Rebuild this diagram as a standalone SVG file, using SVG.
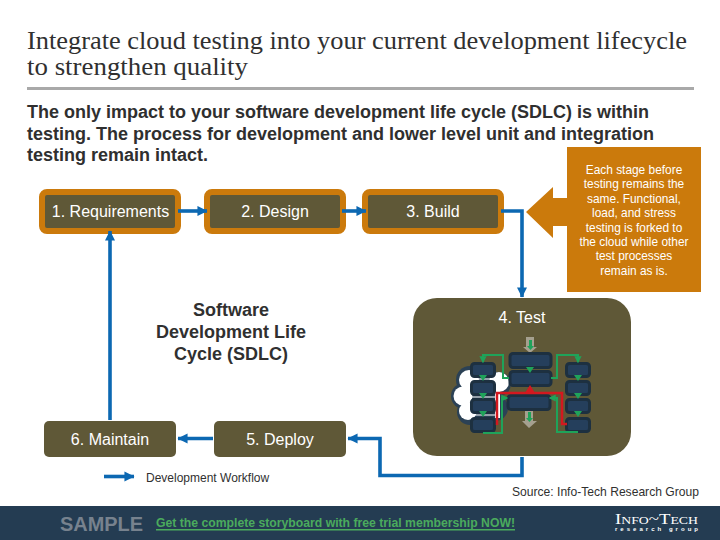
<svg xmlns="http://www.w3.org/2000/svg" width="720" height="540" viewBox="0 0 720 540">
<style>
text{font-family:"Liberation Sans",Arial,sans-serif}
.t{font-family:"Liberation Serif","Times New Roman",serif;font-size:25px;fill:#303030}
.o{fill:#5f5837;stroke:#cb7a0c;stroke-width:6}
.p{fill:#5f5837}
.l{font-size:16px;fill:#fff;text-anchor:middle}
.c{font-size:11.9px;fill:#fff;text-anchor:middle}
.b{font-size:18px;font-weight:bold;fill:#2f2f2f}
.s{font-size:18px;font-weight:bold;fill:#303030;text-anchor:middle}
.f{fill:none;stroke:#0c68b2;stroke-width:3.6}
.n{fill:#253f5c;stroke:#1d3040;stroke-width:3}
.g{fill:none;stroke:#1fa35a;stroke-width:2}
.gh{fill:#1fa35a}
.cd{fill:#2b4155}
.cw{fill:#fff}
</style>
<defs>
<marker id="a" viewBox="0 0 10 10" refX="9.500" refY="5" markerWidth="2.800" markerHeight="2.800" orient="auto"><path d="M0 0L10 5L0 10Z" fill="#0c68b2"/></marker>
<marker id="t" viewBox="0 0 10 10" refX="8" refY="5" markerWidth="3.600" markerHeight="3.600" orient="auto"><path d="M0 0L10 5L0 10Z" fill="#1fa35a"/></marker>
</defs>
<text class="t" x="27" y="49" textLength="660" lengthAdjust="spacingAndGlyphs">Integrate cloud testing into your current development lifecycle</text>
<text class="t" x="27" y="75" textLength="221" lengthAdjust="spacingAndGlyphs">to strengthen quality</text>
<rect x="27" y="87" width="667" height="3" fill="#a9a9a9"/>
<text class="b" x="27" y="118">The only impact to your software development life cycle (SDLC) is within</text>
<text class="b" x="27" y="140">testing. The process for development and lower level unit and integration</text>
<text class="b" x="27" y="161">testing remain intact.</text>
<g id="n1"><rect class="o" x="42" y="192" width="136" height="39" rx="5"/><text class="l" x="110.500" y="217">1. Requirements</text></g>
<g id="n2"><rect class="o" x="207" y="192" width="136" height="39" rx="5"/><text class="l" x="275" y="217">2. Design</text></g>
<g id="n3"><rect class="o" x="365" y="192" width="136" height="39" rx="5"/><text class="l" x="433" y="217">3. Build</text></g>
<g id="callout"><path fill="#cb7a0c" d="M567 147H701V292H567V226H553V238L526 212L553 187V198H567Z"/>
<text class="c" x="634" y="174">Each stage before</text><text class="c" x="634" y="188">testing remains the</text><text class="c" x="634" y="203">same. Functional,</text><text class="c" x="634" y="217">load, and stress</text><text class="c" x="634" y="232">testing is forked to</text><text class="c" x="634" y="246">the cloud while other</text><text class="c" x="634" y="260">test processes</text><text class="c" x="634" y="275">remain as is.</text></g>
<g id="center"><text class="s" x="231" y="316">Software</text><text class="s" x="231" y="338">Development Life</text><text class="s" x="231" y="360">Cycle (SDLC)</text></g>
<g id="n4"><rect class="p" x="413" y="298" width="218" height="158" rx="24"/><text class="l" x="522" y="323">4. Test</text>
<g class="cd"><circle cx="470" cy="380" r="14"/><circle cx="464" cy="396" r="13"/><circle cx="470" cy="412" r="13"/><circle cx="499" cy="384" r="12"/><circle cx="495" cy="408" r="13"/><rect x="470" y="372" width="30" height="45"/></g>
<g class="cw"><circle cx="469" cy="380" r="10"/><circle cx="463" cy="396" r="9.500"/><circle cx="468" cy="411" r="9"/><circle cx="499" cy="382" r="10"/><rect x="495" y="390" width="5" height="28"/></g>
<path fill="#a5a08f" d="M526 337H534V347H537L530 353L523 347H526Z"/>
<path fill="#a5a08f" d="M525 411H533V421H537L529 428L522 421H525Z"/>
<path class="gh" d="M529 340H532V346H534L530.500 350L527 346H529ZM528 412H531V418H533L529.500 422L526 418H528Z"/>
<g id="stack"><rect class="n" x="510" y="353.500" width="41" height="14" rx="3"/><rect class="n" x="510" y="371.500" width="41" height="14" rx="3"/><rect class="n" x="508" y="395.500" width="42" height="14" rx="3"/></g>
<g><rect class="n" x="471.500" y="363.500" width="23" height="13" rx="3"/><rect class="n" x="471.500" y="381.500" width="23" height="13" rx="3"/><rect class="n" x="471.500" y="399.500" width="23" height="13" rx="3"/><rect class="n" x="471.500" y="418.500" width="23" height="13" rx="3"/></g>
<g><rect class="n" x="566.500" y="363.500" width="23" height="13" rx="3"/><rect class="n" x="566.500" y="381.500" width="23" height="13" rx="3"/><rect class="n" x="566.500" y="399.500" width="23" height="13" rx="3"/><rect class="n" x="566.500" y="418.500" width="23" height="13" rx="3"/></g>
<path fill="none" stroke="#fff" stroke-width="1" d="M470 379H496M470 397H496M470 415H496"/>
<g class="g"><path marker-end="url(#t)" d="M509 378H503V355H483V362"/><path marker-end="url(#t)" d="M551 378H557V355H578V362"/><path marker-end="url(#t)" d="M483 433H502V398L507 398"/><path marker-end="url(#t)" d="M578 432H557V398H550"/></g>
<path fill="none" stroke="#d3181f" stroke-width="2.500" d="M497 425V393H562V424H567"/>
<path fill="#d3181f" d="M525 393L530 385L535 393Z"/>
<path class="gh" d="M526 367H534L530 373ZM479 375H487L483 381ZM479 393H487L483 399ZM479 411H487L483 417ZM574 375H582L578 381ZM574 393H582L578 399ZM574 411H582L578 417Z"/>
</g>
<g id="n5"><rect class="p" x="214" y="421" width="132" height="36" rx="5"/><text class="l" x="280" y="445">5. Deploy</text></g>
<g id="n6"><rect class="p" x="44" y="421" width="132" height="36" rx="5"/><text class="l" x="110" y="445">6. Maintain</text></g>
<g id="connectors">
<path class="f" marker-end="url(#a)" d="M178 211H207"/>
<path class="f" marker-end="url(#a)" d="M342 211H366"/>
<path class="f" marker-end="url(#a)" d="M501 211H522V297"/>
<path class="f" marker-end="url(#a)" d="M522 457V475.500H380V438.500H348"/>
<path class="f" marker-end="url(#a)" d="M213 438.500H178"/>
<path class="f" marker-end="url(#a)" d="M110 420V231"/>
<path class="f" marker-end="url(#a)" d="M104 476.500H134"/>
</g>
<text x="146" y="482" font-size="12" fill="#303030">Development Workflow</text>
<text x="512" y="496" font-size="12.100" fill="#303030">Source: Info-Tech Research Group</text>
<rect y="506" width="720" height="34" fill="#243c52"/>
<text x="60" y="531" font-size="20" font-weight="bold" fill="#77828e" textLength="83" lengthAdjust="spacingAndGlyphs">SAMPLE</text>
<text x="156" y="527" font-size="12" font-weight="bold" fill="#4bab5d" textLength="359" lengthAdjust="spacingAndGlyphs">Get the complete storyboard with free trial membership NOW!</text>
<rect x="156" y="529" width="359" height="1.500" fill="#4bab5d"/>
<text x="615" y="524" font-size="15" fill="#fff" style="font-family:'Liberation Serif',serif;font-variant:small-caps" textLength="83" lengthAdjust="spacingAndGlyphs">Info~Tech</text>
<text x="615" y="531" font-size="6" font-weight="bold" fill="#fff" textLength="83">research group</text>
</svg>
